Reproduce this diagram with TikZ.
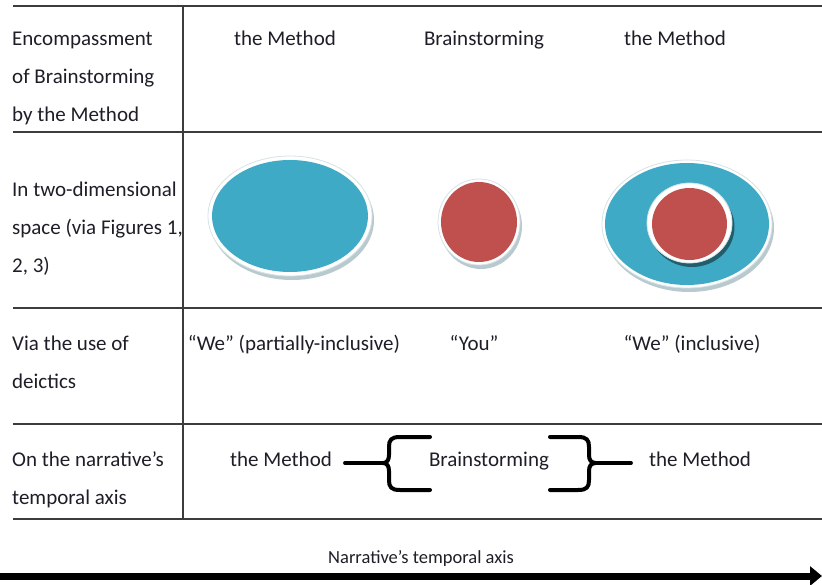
\documentclass[tikz,border=0pt]{standalone}
\usepackage{fontspec}
\setmainfont{Carlito}
\usetikzlibrary{arrows.meta}
\definecolor{cellblue}{HTML}{3FAAC5}
\definecolor{cellred}{HTML}{C0504D}
\definecolor{gridgray}{HTML}{3C3C3C}
\definecolor{inkdark}{HTML}{1E1E28}
\definecolor{rimgray}{HTML}{D5E2E6}
\definecolor{shadowblue}{HTML}{7F9EA8}
\tikzset{
  rowlabel/.style={anchor=base west, inner sep=0pt, align=flush left, text width=180pt,
    font=\fontsize{21}{38}\selectfont, text=inkdark},
  cell/.style={anchor=base, inner sep=0pt, font=\fontsize{21}{38}\selectfont, text=inkdark},
  gridline/.style={draw=gridgray, line width=1.4pt},
  bracket/.style={line width=4pt, line cap=round, line join=round},
  rim/.style={fill=white, draw=rimgray, line width=0.8pt},
  softshadow/.style={fill=shadowblue, opacity=0.55},
}

\begin{document}
\begin{tikzpicture}[x=1pt, y=-1pt]
  \useasboundingbox (0,0) rectangle (822,585);
  % table rules
  \foreach \y in {6,132,308,424,519}
    \draw[gridline] (13,\y) -- (822,\y);
  \draw[gridline] (183,6) -- (183,519);

  % row labels
  \node[rowlabel] (encomp) at (12,46) {Encompassment\\of Brainstorming\\by the Method};
  \node[rowlabel] (twodim) at (12,197) {In two-dimensional\\space (via Figures 1,\\2, 3)};
  \node[rowlabel] (deictic) at (12,351) {Via the use of\\deictics};
  \node[rowlabel] (narr) at (12,466) {On the narrative’s\\temporal axis};

  % row 1
  \node[cell] (methodA) at (285,46) {the Method};
  \node[cell] (brainA) at (484,46) {Brainstorming};
  \node[cell] (methodB) at (675,46) {the Method};

  % row 2: discs
  \fill[softshadow] (292,220) ellipse [x radius=82pt, y radius=60pt];
  \filldraw[rim] (290,216) ellipse [x radius=82pt, y radius=60pt];
  \fill[cellblue] (290,216) ellipse [x radius=78pt, y radius=56pt];

  \fill[softshadow] (481,226) ellipse [x radius=41pt, y radius=43pt];
  \filldraw[rim] (479,222) ellipse [x radius=41pt, y radius=43pt];
  \fill[cellred] (479,222) ellipse [x radius=38pt, y radius=40pt];

  \fill[softshadow] (689,228) ellipse [x radius=85pt, y radius=64pt];
  \filldraw[rim] (687,224) ellipse [x radius=85pt, y radius=64pt];
  \fill[cellblue] (687,224) ellipse [x radius=82pt, y radius=61pt];
  \fill[black, opacity=0.45] (692,227) ellipse [x radius=42.5pt, y radius=40pt];
  \filldraw[rim] (689.5,223) ellipse [x radius=42.5pt, y radius=40pt];
  \fill[cellred] (689.5,224) ellipse [x radius=37.5pt, y radius=36pt];

  % row 3
  \node[cell] (weA) at (294,351) {“We” (partially-inclusive)};
  \node[cell] (you) at (474,351) {“You”};
  \node[cell] (weB) at (692,351) {“We” (inclusive)};

  % row 4
  \node[cell] (methodL) at (281,466) {the Method};
  \node[cell] (brainM) at (489,466) {Brainstorming};
  \node[cell] (methodR) at (700,466) {the Method};
  \coordinate (lbtip) at (383,463);
  \coordinate (rbtip) at (596,463);
  \draw[bracket] ([xshift=13pt]methodL.east |- lbtip) -- (lbtip);
  \draw[bracket] (430,437) -- (400,437) .. controls (391,437) and (389,440) .. (389,447)
    -- (389,455) .. controls (389,460) and (387,463) .. (lbtip)
    .. controls (387,463) and (389,466) .. (389,471)
    -- (389,480) .. controls (389,487) and (391,490) .. (400,490) -- (430,490);
  \draw[bracket] (550,437) -- (578,437) .. controls (587,437) and (589,440) .. (589,447)
    -- (589,455) .. controls (589,460) and (591,463) .. (rbtip)
    .. controls (591,463) and (589,466) .. (589,471)
    -- (589,480) .. controls (589,487) and (587,490) .. (578,490) -- (550,490);
  \draw[bracket] (rbtip) -- ([xshift=-18pt]methodR.west |- rbtip);

  % temporal axis
  \node[cell, font=\fontsize{18.5}{22}\selectfont] (axislabel) at (421,563) {Narrative’s temporal axis};
  \coordinate (axisstart) at (0,576);
  \coordinate (axisend) at (822,576);
  \draw[line width=7pt, -{Triangle[length=12pt, width=19pt]}] (axisstart) -- (axisend);
\end{tikzpicture}
\end{document}
